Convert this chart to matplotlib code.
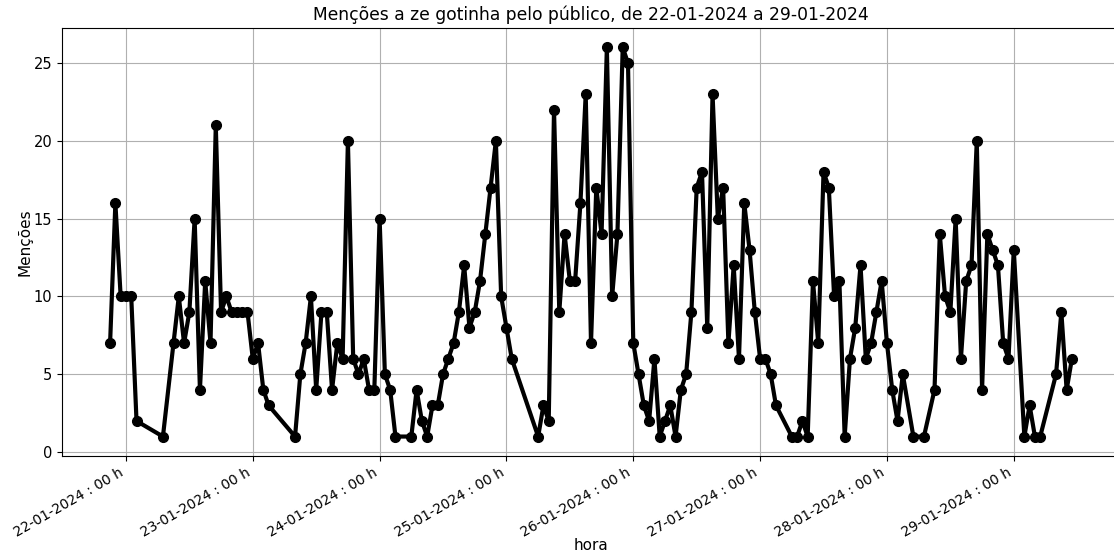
import matplotlib
matplotlib.use("Agg")
import matplotlib.pyplot as plt
import matplotlib.dates as mdates
import pandas as pd

# horas com menções em cada dia e quantidade de menções
dia_21_horas = [21, 22, 23]
dia_21_vals = [7, 16, 10]

dia_22_horas = [0, 1, 2, 7, 9, 10, 11, 12, 13, 14, 15, 16, 17, 18, 19, 20, 21, 22, 23]
dia_22_vals = [10, 10, 2, 1, 7, 10, 7, 9, 15, 4, 11, 7, 21, 9, 10, 9, 9, 9, 9]

dia_23_horas = [0, 1, 2, 3, 8, 9, 10, 11, 12, 13, 14, 15, 16, 17, 18, 19, 20, 21, 22, 23]
dia_23_vals = [6, 7, 4, 3, 1, 5, 7, 10, 4, 9, 9, 4, 7, 6, 20, 6, 5, 6, 4, 4]

dia_24_horas = [0, 1, 2, 3, 6, 7, 8, 9, 10, 11, 12, 13, 14, 15, 16, 17, 18, 19, 20, 21, 22, 23]
dia_24_vals = [15, 5, 4, 1, 1, 4, 2, 1, 3, 3, 5, 6, 7, 9, 12, 8, 9, 11, 14, 17, 20, 10]

dia_25_horas = [0, 1, 6, 7, 8, 9, 10, 11, 12, 13, 14, 15, 16, 17, 18, 19, 20, 21, 22, 23]
dia_25_vals = [8, 6, 1, 3, 2, 22, 9, 14, 11, 11, 16, 23, 7, 17, 14, 26, 10, 14, 26, 25]

dia_26_horas = list(range(24))
dia_26_vals = [7, 5, 3, 2, 6, 1, 2, 3, 1, 4, 5, 9, 17, 18, 8, 23, 15, 17, 7, 12, 6, 16, 13, 9]

dia_27_horas = [0, 1, 2, 3, 6, 7, 8, 9, 10, 11, 12, 13, 14, 15, 16, 17, 18, 19, 20, 21, 22, 23]
dia_27_vals = [6, 6, 5, 3, 1, 1, 2, 1, 11, 7, 18, 17, 10, 11, 1, 6, 8, 12, 6, 7, 9, 11]

dia_28_horas = [0, 1, 2, 3, 5, 7, 9, 10, 11, 12, 13, 14, 15, 16, 17, 18, 19, 20, 21, 22, 23]
dia_28_vals = [7, 4, 2, 5, 1, 1, 4, 14, 10, 9, 15, 6, 11, 12, 20, 4, 14, 13, 12, 7, 6]

dia_29_horas = [0, 2, 3, 4, 5, 8, 9, 10, 11]
dia_29_vals = [13, 1, 3, 1, 1, 5, 9, 4, 6]

dias = {
    "2024-01-21": (dia_21_horas, dia_21_vals),
    "2024-01-22": (dia_22_horas, dia_22_vals),
    "2024-01-23": (dia_23_horas, dia_23_vals),
    "2024-01-24": (dia_24_horas, dia_24_vals),
    "2024-01-25": (dia_25_horas, dia_25_vals),
    "2024-01-26": (dia_26_horas, dia_26_vals),
    "2024-01-27": (dia_27_horas, dia_27_vals),
    "2024-01-28": (dia_28_horas, dia_28_vals),
    "2024-01-29": (dia_29_horas, dia_29_vals),
}

# monta a série horária
tempos = []
mencoes = []
for dia, (horas, vals) in dias.items():
    for h, v in zip(horas, vals):
        tempos.append(pd.Timestamp(dia) + pd.Timedelta(hours=h))
        mencoes.append(v)

df = pd.DataFrame({"hora": tempos, "mencoes": mencoes})

fig = plt.figure(figsize=(11.14, 5.55), dpi=100)
ax = fig.add_axes([62 / 1114, 99 / 555, 1058 / 1114, 428 / 555])

ax.plot(df["hora"], df["mencoes"], color="black", linewidth=3, marker="o", markersize=7)

ax.xaxis.set_major_locator(mdates.DayLocator())
ax.xaxis.set_major_formatter(mdates.DateFormatter("%d-%m-%Y : %H h"))
plt.setp(ax.get_xticklabels(), rotation=30, ha="right", fontsize=10)
plt.setp(ax.get_yticklabels(), fontsize=10.5)

ax.grid(True)
ax.set_title("Menções a ze gotinha pelo público, de 22-01-2024 a 29-01-2024", fontsize=12.3)
ax.set_xlabel("hora", fontsize=11, labelpad=-1)
ax.set_ylabel("Menções", fontsize=11, labelpad=1)

fig.savefig("out.png", dpi=100)
